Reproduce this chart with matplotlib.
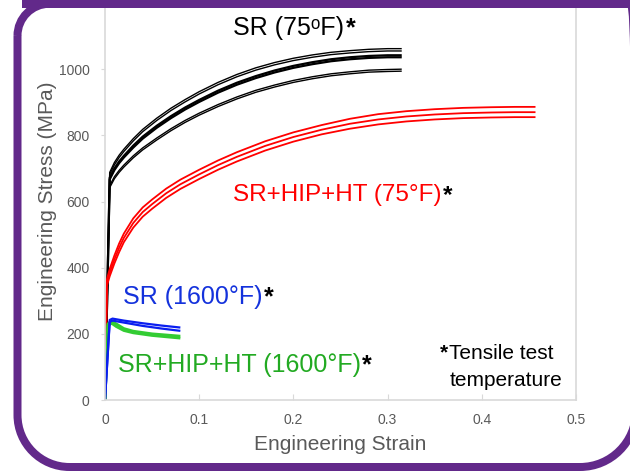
import matplotlib
matplotlib.use("Agg")
import matplotlib.pyplot as plt
from matplotlib.path import Path
from matplotlib.patches import PathPatch, Rectangle
from matplotlib.transforms import Affine2D

plt.rcParams['font.family'] = ['Liberation Sans', 'DejaVu Sans']

# ---------------- data (strain, stress MPa) ----------------
sr75_x = [0, 0.005, 0.01, 0.015, 0.02, 0.03, 0.04, 0.055, 0.07, 0.085, 0.10, 0.12,
          0.14, 0.16, 0.18, 0.20, 0.22, 0.24, 0.26, 0.28, 0.30, 0.315]
sr75_top1_y = [0, 688, 718, 740, 758, 790, 818, 852, 882, 908, 932, 960,
               984, 1004, 1020, 1033, 1043, 1051, 1056, 1060, 1062, 1062]
sr75_top2_y = [0, 682, 711, 733, 751, 783, 811, 845, 875, 901, 925, 953,
               977, 997, 1013, 1026, 1036, 1044, 1049, 1053, 1055, 1055]
sr75_mid1_y = [0, 672, 700, 721, 738, 769, 796, 829, 858, 884, 907, 935,
               959, 979, 996, 1010, 1021, 1030, 1036, 1040, 1042, 1042]
sr75_mid2_y = [0, 667, 695, 716, 733, 763, 790, 823, 852, 878, 901, 929,
               953, 973, 990, 1004, 1015, 1024, 1030, 1034, 1036, 1036]
sr75_low1_y = [0, 648, 675, 694, 710, 738, 762, 792, 820, 845, 867, 893,
               916, 936, 952, 966, 977, 986, 992, 997, 999, 1000]
sr75_low2_y = [0, 642, 669, 688, 704, 732, 756, 786, 814, 839, 861, 887,
               910, 930, 946, 960, 971, 980, 986, 991, 993, 994]

hip75_x = [0, 0.002, 0.005, 0.01, 0.015, 0.02, 0.03, 0.04, 0.05, 0.065, 0.08, 0.10,
           0.12, 0.14, 0.17, 0.20, 0.23, 0.26, 0.29, 0.32, 0.35, 0.38, 0.41, 0.435, 0.457]
hip75_top_y = [0, 365, 396, 437, 473, 503, 549, 582, 606, 639, 666, 696,
               724, 749, 782, 809, 831, 850, 864, 873, 879, 883, 885, 886, 886]
hip75_mid_y = [0, 355, 385, 425, 460, 490, 535, 568, 592, 625, 652, 682,
               710, 735, 768, 795, 817, 835, 848, 857, 863, 867, 869, 870, 870]
hip75_low_y = [0, 345, 374, 413, 447, 477, 521, 554, 578, 611, 638, 668,
               696, 721, 754, 781, 803, 820, 833, 842, 848, 852, 854, 855, 855]

sr1600_x = [0, 0.005, 0.008, 0.02, 0.04, 0.06, 0.08]
sr1600_a_y = [0, 242, 246, 240, 232, 225, 219]
sr1600_b_y = [0, 236, 240, 234, 224, 216, 209]

hip1600_x = [0, 0.003, 0.007, 0.012, 0.02, 0.03, 0.05, 0.08]
hip1600_a_y = [0, 230, 238, 230, 216, 208, 200, 193]
hip1600_b_y = [0, 225, 232, 222, 210, 203, 195, 187]

x_ticks = [0, 0.1, 0.2, 0.3, 0.4, 0.5]
x_ticklabels = ['0', '0.1', '0.2', '0.3', '0.4', '0.5']
y_ticks = [0, 200, 400, 600, 800, 1000]
y_ticklabels = ['0', '200', '400', '600', '800', '1000']

W, H = 630, 475
fig = plt.figure(figsize=(W / 100, H / 100), dpi=100)
fig.patch.set_facecolor('white')
ax = fig.add_axes([105 / W, 75 / H, 471 / W, 397 / H])

black_sets = [(sr75_top1_y, 1.0), (sr75_top2_y, 1.0), (sr75_mid1_y, 1.6),
              (sr75_mid2_y, 1.6), (sr75_low1_y, 1.0), (sr75_low2_y, 1.0)]
for ys, lw in black_sets:
    ax.plot(sr75_x, ys, color='black', lw=lw, solid_capstyle='butt')

for ys in (hip75_top_y, hip75_mid_y, hip75_low_y):
    ax.plot(hip75_x, ys, color='#FF0000', lw=1.3, solid_capstyle='butt')

for ys in (hip1600_a_y, hip1600_b_y):
    ax.plot(hip1600_x, ys, color='#33CC33', lw=2.0, solid_capstyle='butt')
for ys in (sr1600_a_y, sr1600_b_y):
    ax.plot(sr1600_x, ys, color='#0A1EF0', lw=1.6, solid_capstyle='butt')

ax.set_xlim(0, 0.5)
ax.set_ylim(0, 1200)
ax.set_xticks(x_ticks)
ax.set_xticklabels(x_ticklabels)
ax.set_yticks(y_ticks)
ax.set_yticklabels(y_ticklabels)

grey_spine = '#d9d9d9'
for s in ('left', 'right', 'bottom'):
    ax.spines[s].set_color(grey_spine)
    ax.spines[s].set_linewidth(1.2)
ax.spines['top'].set_visible(False)
ax.tick_params(axis='x', direction='in', length=4, color=grey_spine,
               labelcolor='#595959', labelsize=10, pad=9)
ax.tick_params(axis='y', direction='out', length=3, color=grey_spine,
               labelcolor='#595959', labelsize=10, pad=8)

ax.set_xlabel('Engineering Strain', fontsize=15, color='#595959', labelpad=6)
ax.set_ylabel('Engineering Stress (MPa)', fontsize=15, color='#595959', labelpad=1)


def label(x, y, s, color, size):
    t = ax.text(x, y, s, color=color, fontsize=size, ha='left', va='center')
    ax.annotate('*', xy=(1, 1), xycoords=t, xytext=(1, 0), textcoords='offset points',
                ha='left', va='top', fontsize=size, color='black', fontweight='bold')
    return t


label(0.136, 1124, 'SR (75\u1d52F)', 'black', 18)
label(0.136, 619, 'SR+HIP+HT (75°F)', '#FF0000', 17.5)
label(0.019, 311, 'SR (1600°F)', '#1432DC', 18)
label(0.0138, 106, 'SR+HIP+HT (1600°F)', '#22AA22', 18)

ax.text(0.3556, 142, '*', fontsize=15, fontweight='bold', color='black',
        ha='left', va='center')
ax.text(0.3656, 142, 'Tensile test', fontsize=15, color='black', ha='left', va='center')
ax.text(0.366, 60, 'temperature', fontsize=15, color='black', ha='left', va='center')

# ---------------- purple frame ----------------
purple = '#62298A'
tr = Affine2D().scale(1 / W, 1 / H) + fig.transFigure
L, R, T, B = 17.5, 636.0, H - 3.75, H - 467.0
rTL, rBL, rBR, rTR = 32, 52, 56, 6
k = 0.5523
verts = [
    (L, T - rTL),
    (L, B + rBL),
    (L, B + rBL - k * rBL), (L + rBL - k * rBL, B), (L + rBL, B),
    (R - rBR, B),
    (R - rBR + k * rBR, B), (R, B + rBR - k * rBR), (R, B + rBR),
    (R, T - rTR),
    (R, T - rTR + k * rTR), (R - rTR + k * rTR, T), (R - rTR, T),
    (L + rTL, T),
    (L + rTL - k * rTL, T), (L, T - rTL + k * rTL), (L, T - rTL),
    (L, T - rTL),
]
codes = [Path.MOVETO, Path.LINETO,
         Path.CURVE4, Path.CURVE4, Path.CURVE4,
         Path.LINETO,
         Path.CURVE4, Path.CURVE4, Path.CURVE4,
         Path.LINETO,
         Path.CURVE4, Path.CURVE4, Path.CURVE4,
         Path.LINETO,
         Path.CURVE4, Path.CURVE4, Path.CURVE4,
         Path.CLOSEPOLY]
frame = PathPatch(Path(verts, codes), transform=tr, facecolor='none',
                  edgecolor=purple, lw=8 * 72 / 100, zorder=10)
fig.add_artist(frame)
topbar = Rectangle((22, H - 7.5), W - 22, 7.5, transform=tr, facecolor=purple,
                   edgecolor='none', zorder=10)
fig.add_artist(topbar)

fig.savefig('out.png', dpi=100, facecolor='white')
